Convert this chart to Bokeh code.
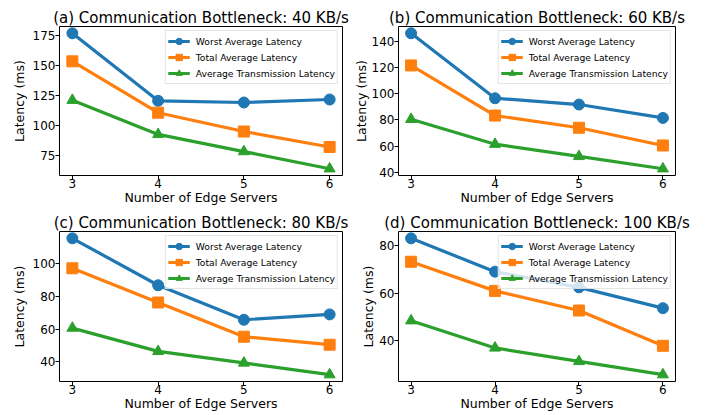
from bokeh.plotting import figure
from bokeh.layouts import gridplot
from bokeh.models import Range1d, FixedTicker, Legend, LegendItem
from bokeh.embed import file_html
from bokeh.resources import INLINE

servers = [3, 4, 5, 6]
series_names = ["Worst Average Latency", "Total Average Latency", "Average Transmission Latency"]
series_colors = ["#1f77b4", "#ff7f0e", "#2ca02c"]
series_markers = ["circle", "square", "triangle"]

title_40 = "(a) Communication Bottleneck: 40 KB/s"
worst_40 = [177.2, 120.9, 119.5, 122.0]
total_40 = [153.8, 111.0, 95.3, 82.4]
trans_40 = [121.4, 92.9, 78.6, 64.3]
yticks_40 = [75, 100, 125, 150, 175]

title_60 = "(b) Communication Bottleneck: 60 KB/s"
worst_60 = [146.0, 96.5, 91.7, 81.5]
total_60 = [121.5, 83.3, 74.0, 60.5]
trans_60 = [80.5, 61.5, 52.2, 42.8]
yticks_60 = [40, 60, 80, 100, 120, 140]

title_80 = "(c) Communication Bottleneck: 80 KB/s"
worst_80 = [115.7, 86.9, 65.7, 69.0]
total_80 = [97.3, 76.3, 55.3, 50.4]
trans_80 = [60.6, 46.3, 39.2, 32.0]
yticks_80 = [40, 60, 80, 100]

title_100 = "(d) Communication Bottleneck: 100 KB/s"
worst_100 = [83.2, 69.1, 62.5, 53.7]
total_100 = [73.3, 61.0, 52.7, 37.8]
trans_100 = [48.4, 36.9, 31.2, 25.6]
yticks_100 = [40, 60, 80]

x_label = "Number of Edge Servers"
y_label = "Latency (ms)"
FONT = "DejaVu Sans"


def make_panel(title, series, yticks, width, height, bl, br, bt, bb, ylab_standoff):
    ys = [v for s in series for v in s]
    lo, hi = min(ys), max(ys)
    pad = 0.05 * (hi - lo)
    xlo, xhi = min(servers), max(servers)
    xpad = 0.05 * (xhi - xlo)
    p = figure(width=width, height=height, output_backend="svg", toolbar_location=None,
               x_range=Range1d(xlo - xpad, xhi + xpad), y_range=Range1d(lo - pad, hi + pad),
               min_border_left=bl, min_border_right=br, min_border_top=bt, min_border_bottom=bb,
               title=title)
    p.background_fill_color = "white"
    p.border_fill_color = "white"
    p.outline_line_color = "black"
    p.outline_line_width = 1
    p.outline_line_alpha = 1
    p.xgrid.visible = False
    p.ygrid.visible = False

    p.title.text_font = FONT
    p.title.text_font_size = "15px"
    p.title.text_font_style = "normal"
    p.title.text_color = "black"
    p.title.align = "center"
    p.title.standoff = 0

    p.xaxis.ticker = FixedTicker(ticks=servers)
    p.yaxis.ticker = FixedTicker(ticks=yticks)
    p.xaxis.axis_label = x_label
    p.yaxis.axis_label = y_label
    for ax in (p.xaxis[0], p.yaxis[0]):
        ax.axis_line_color = None
        ax.major_tick_line_color = "black"
        ax.major_tick_out = 4
        ax.major_tick_in = 0
        ax.minor_tick_line_color = None
        ax.major_label_text_font = FONT
        ax.major_label_text_font_size = "12px"
        ax.major_label_text_color = "black"
        ax.axis_label_text_font = FONT
        ax.axis_label_text_font_size = "12.5px"
        ax.axis_label_text_font_style = "normal"
        ax.axis_label_text_color = "black"
    p.xaxis.major_label_standoff = -1
    p.xaxis.axis_label_standoff = -1
    p.yaxis.major_label_standoff = 0
    p.yaxis.axis_label_standoff = ylab_standoff

    items = []
    for vals, name, color, marker in zip(series, series_names, series_colors, series_markers):
        lr = p.line(servers, vals, line_color=color, line_width=3.2)
        sr = p.scatter(servers, vals, marker=marker, size=11, fill_color=color, line_color=color)
        items.append(LegendItem(label=name, renderers=[lr, sr]))
    legend = Legend(items=items, location="top_right", margin=4, padding=2,
                    spacing=-2, glyph_height=16, glyph_width=22, label_height=14,
                    label_standoff=6, label_text_font=FONT, label_text_font_size="9.2px",
                    label_text_color="black",
                    border_line_color="#cccccc", border_line_width=1,
                    background_fill_color="white", background_fill_alpha=0.8)
    p.add_layout(legend)
    return p


pa = make_panel(title_40, [worst_40, total_40, trans_40], yticks_40, 350, 207, 59, 8, 26, 31, 3)
pb = make_panel(title_60, [worst_60, total_60, trans_60], yticks_60, 340, 207, 42, 15, 26, 31, 0)
pc = make_panel(title_80, [worst_80, total_80, trans_80], yticks_80, 350, 206, 59, 8, 24, 31, 3)
pd = make_panel(title_100, [worst_100, total_100, trans_100], yticks_100, 340, 206, 42, 15, 24, 31, 0)

grid = gridplot([[pa, pb], [pc, pd]], toolbar_location=None)

open("out.html", "w").write(file_html(grid, INLINE))
